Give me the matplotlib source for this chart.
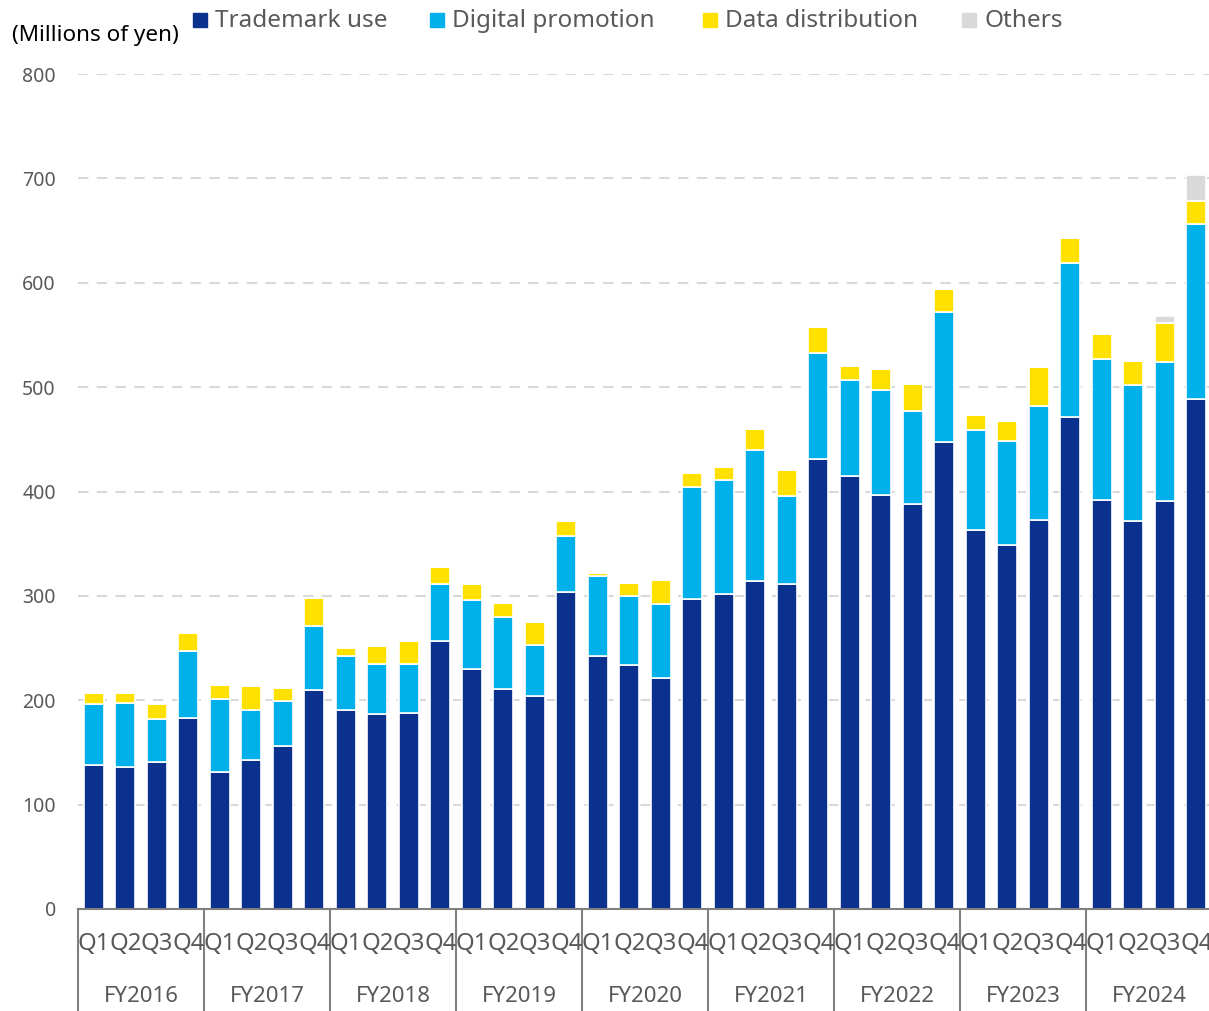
import matplotlib
matplotlib.use("Agg")
import matplotlib.pyplot as plt
import numpy as np
from matplotlib.patches import Rectangle
from matplotlib.transforms import blended_transform_factory

plt.rcParams['font.family'] = ['Noto Sans', 'DejaVu Sans']

fiscal_years = ["FY2016", "FY2017", "FY2018", "FY2019", "FY2020",
                "FY2021", "FY2022", "FY2023", "FY2024"]
quarters = ["Q1", "Q2", "Q3", "Q4"]

trademark = [138, 136, 141, 183, 131, 143, 156, 210, 191, 187, 188, 257,
             230, 211, 204, 304, 242, 234, 221, 297, 302, 314, 311, 431,
             415, 397, 388, 447, 363, 349, 373, 471, 392, 372, 391, 489]
digital = [58, 61, 41, 64, 70, 48, 43, 61, 51, 48, 47, 54,
           66, 69, 49, 53, 77, 66, 71, 107, 109, 126, 85, 102,
           92, 100, 89, 125, 96, 99, 109, 148, 135, 130, 133, 167]
data_dist = [11, 10, 14, 17, 14, 23, 13, 27, 8, 17, 22, 17,
             15, 13, 22, 15, 3, 12, 23, 14, 12, 20, 25, 25,
             13, 20, 26, 22, 14, 20, 37, 24, 24, 23, 37, 22]
others = [0, 0, 0, 0, 0, 0, 0, 0, 0, 0, 0, 0,
          0, 0, 0, 0, 0, 0, 0, 0, 0, 0, 0, 0,
          0, 0, 0, 0, 0, 0, 0, 0, 0, 0, 7, 25]

series_names = ["Trademark use", "Digital promotion", "Data distribution", "Others"]
colors = ["#0B318F", "#00B0EB", "#FFE100", "#D9D9D9"]
text_gray = "#595959"

W, H = 1209, 1011
fig = plt.figure(figsize=(W / 100, H / 100), dpi=100)
ax_left, ax_right = 78, 1212
ax_bottom, ax_top = 909, 74
ax = fig.add_axes([ax_left / W, 1 - ax_bottom / H,
                   (ax_right - ax_left) / W, (ax_bottom - ax_top) / H])

n = len(trademark)
x = np.arange(n)
bottom = np.zeros(n)
for vals, col in zip([trademark, digital, data_dist, others], colors):
    v = np.array(vals, dtype=float)
    ax.bar(x, v, bottom=bottom, width=0.64, color=col,
           edgecolor="white", linewidth=1.2, zorder=3)
    bottom += v

ax.set_xlim(-0.5, n - 0.5)
ax.set_ylim(0, 800)
ax.set_yticks(np.arange(0, 801, 100))
ax.yaxis.grid(True, color="#D9D9D9", linestyle=(0, (5, 4)), linewidth=1.5, zorder=0)
ax.tick_params(axis="y", length=0, pad=16, labelsize=14, labelcolor=text_gray)
ax.set_xticks([])
for s in ["top", "right", "left"]:
    ax.spines[s].set_visible(False)
ax.spines["bottom"].set_color("#808080")
ax.spines["bottom"].set_linewidth(1.5)
ax.spines["bottom"].set_zorder(4)

trans = blended_transform_factory(ax.transData, ax.transAxes)
axh = ax_bottom - ax_top
for i in range(n):
    ax.text(x[i], -35 / axh, quarters[i % 4], transform=trans, ha="center",
            va="center", fontsize=17.2, color=text_gray)
for g, fy in enumerate(fiscal_years):
    ax.text(g * 4 + 1.5, -87 / axh, fy, transform=trans, ha="center",
            va="center", fontsize=16, color=text_gray)
for g in range(len(fiscal_years) + 1):
    ax.plot([g * 4 - 0.5, g * 4 - 0.5], [0, -0.14], transform=trans,
            color="#808080", linewidth=1.5, clip_on=False)

fig.text(12 / W, 1 - 35 / H, "(Millions of yen)", ha="left", va="center",
         fontsize=16.2, color="black")

leg_sq_x = [193, 430, 703, 962]
for sx, name, col in zip(leg_sq_x, series_names, colors):
    fig.patches.append(Rectangle((sx / W, 1 - 27 / H), 14 / W, 14 / H,
                                 transform=fig.transFigure, color=col))
    fig.text((sx + 22) / W, 1 - 21 / H, name, ha="left", va="center",
             fontsize=17.5, color=text_gray)

fig.savefig("out.png", dpi=100)
